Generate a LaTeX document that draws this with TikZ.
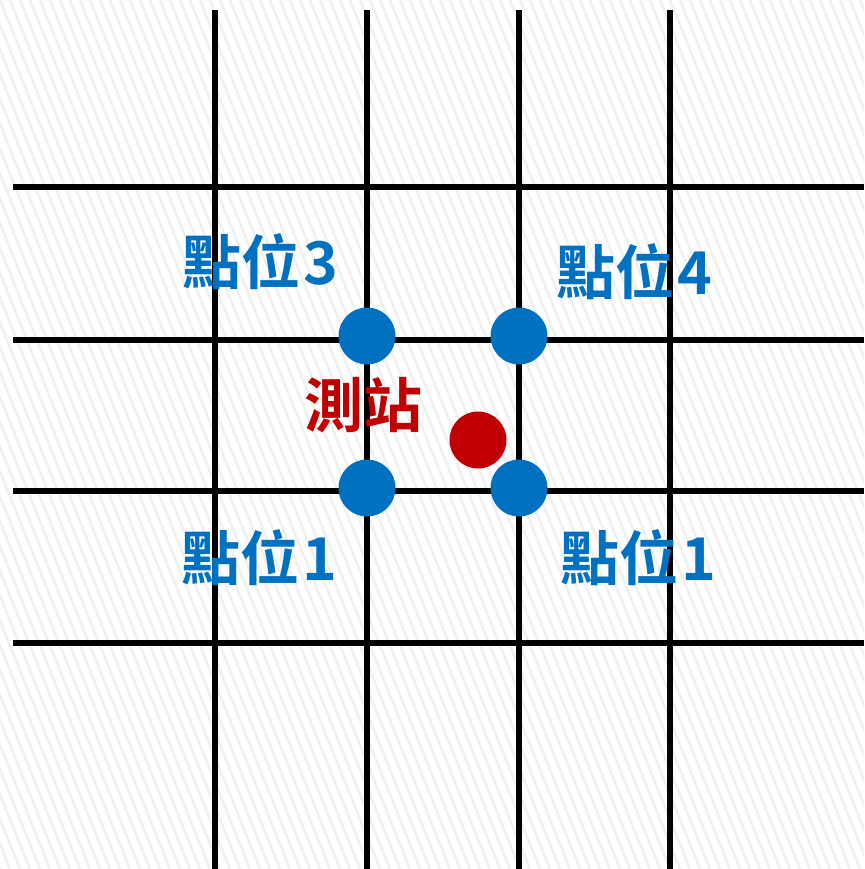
\documentclass[tikz,border=0pt]{standalone}
\usepackage{fontspec}
\newfontfamily\cjk{Noto Sans CJK TC}[BoldFont={* Bold}]
\definecolor{ptblue}{HTML}{0070C0}
\definecolor{ptred}{HTML}{C00000}
\begin{document}
\begin{tikzpicture}[x=1pt,y=-1pt,
  gridline/.style={line width=6pt,black},
  pointdot/.style={circle,fill=ptblue,minimum size=57pt,inner sep=0pt},
  stationdot/.style={circle,fill=ptred,minimum size=57pt,inner sep=0pt},
  lbl/.style={font=\cjk\bfseries\fontsize{59}{62}\selectfont,text=ptblue,inner sep=0pt},
  stlbl/.style={font=\cjk\bfseries\fontsize{59}{62}\selectfont,text=ptred,inner sep=0pt}]
\useasboundingbox (0,0) rectangle (864,869);
\fill[white] (0,0) rectangle (864,869);
\begin{scope}
\clip (0,0) rectangle (864,869);
\foreach \i in {-40,...,90} {
  \draw[black!6,line width=2.5pt] (\i*10,0) -- ++(350,869);
}
\end{scope}
% grid
\foreach \x in {215,367,519,670} {
  \draw[gridline] (\x,10) -- (\x,869);
}
\foreach \y in {187,340,491,643} {
  \draw[gridline] (13,\y) -- (864,\y);
}
% dots
\node[pointdot] (p3) at (367,336) {};
\node[pointdot] (p4) at (519,336) {};
\node[pointdot] (p1) at (367,488) {};
\node[pointdot] (p2) at (519,488) {};
\node[stationdot] (st) at (478,440) {};
% labels
\node[lbl] (l3) at (260,262) {點位\kern3pt 3};
\node[lbl] (l4) at (634,272) {點位\kern3pt 4};
\node[stlbl] (ls) at (363,405) {測站};
\node[lbl] (l1) at (259,558) {點位\kern3pt 1};
\node[lbl] (l2) at (638,558) {點位\kern3pt 1};
\end{tikzpicture}
\end{document}
